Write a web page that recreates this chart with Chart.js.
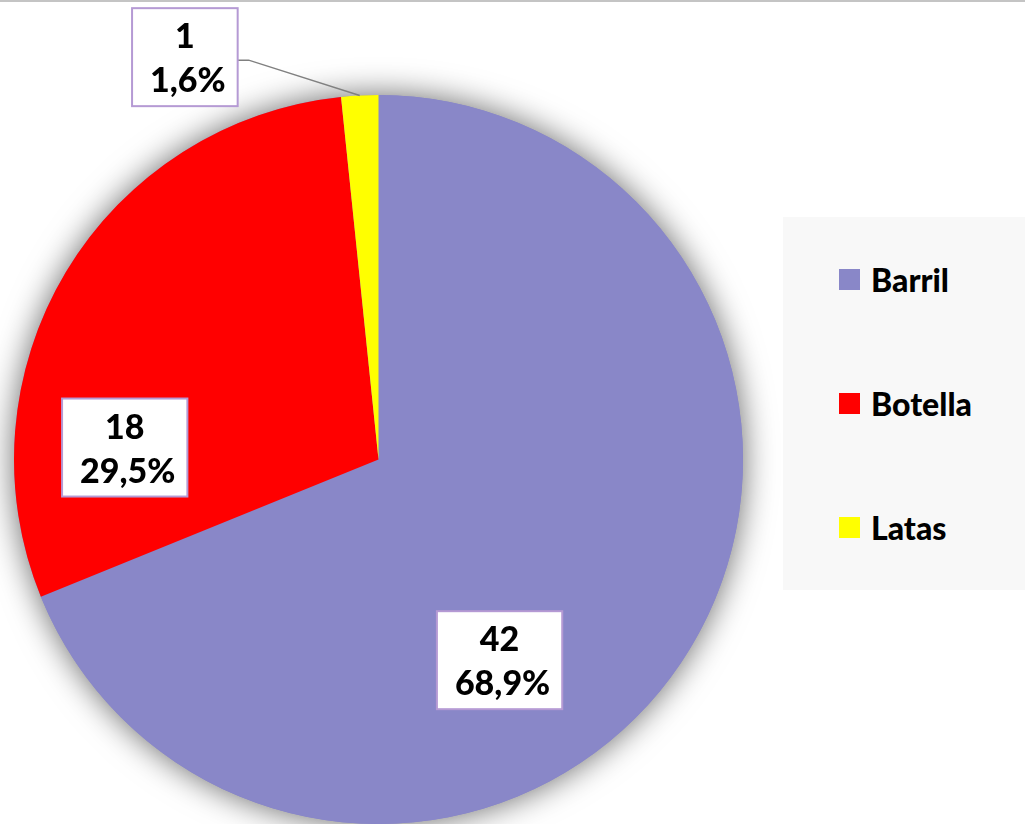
<!DOCTYPE html>
<html>
<head>
<meta charset="utf-8">
<script src="https://cdn.jsdelivr.net/npm/chart.js@4/dist/chart.umd.min.js"></script>
<style>
  html,body{margin:0;padding:0;background:#fff;}
  #wrap{position:relative;width:1025px;height:824px;overflow:hidden;}
  #topline{position:absolute;left:0;top:0;width:1025px;height:2px;background:#c4c4c4;}
  #chartPie{position:absolute;left:0;top:0;}
  #leyenda{position:absolute;left:783px;top:217px;width:242px;height:373px;background:#f8f8f8;}
  .item{position:absolute;left:56px;height:21px;display:flex;align-items:center;font:900 32px Lato, sans-serif;color:#000;}
  .item span.sq{display:inline-block;width:21px;height:21px;margin-right:11px;}
</style>
</head>
<body>
<div id="wrap">
  <canvas id="chartPie" width="1025" height="824"></canvas>
  <div id="topline"></div>
  <div id="leyenda"></div>
</div>
<script>
const categorias = ['Barril', 'Botella', 'Latas'];
const valores = [42, 18, 1];
const colores = ['#8987c8', '#ff0000', '#ffff00'];

// where each label box sits: angle (deg, clockwise from +x) and distance as fraction of radius
const posEtiquetas = [
  { ang: 58.9, r: 0.643 },
  { ang: 182.7, r: 0.697 },
  { ang: 244.3, r: 1.225 }
];

const total = valores.reduce((a,b)=>a+b, 0);
const pct = v => (v/total*100).toFixed(1).replace('.', ',') + '%';

const etiquetasPlugin = {
  id: 'etiquetas',
  beforeDatasetsDraw(chart){
    const arc = chart.getDatasetMeta(0).data[0];
    if(!arc) return;
    const ctx = chart.ctx;
    ctx.save();
    ctx.beginPath();
    ctx.arc(arc.x, arc.y, arc.outerRadius, 0, Math.PI*2);
    ctx.shadowColor = 'rgba(0,0,0,0.6)';
    ctx.shadowBlur = 32;
    ctx.fillStyle = colores[0];
    ctx.fill();
    ctx.restore();
  },
  afterDatasetsDraw(chart){
    const ctx = chart.ctx;
    const meta = chart.getDatasetMeta(0);
    meta.data.forEach((arc, i)=>{
      const p = posEtiquetas[i];
      const a = p.ang*Math.PI/180;
      const cx = arc.x + Math.cos(a)*p.r*arc.outerRadius;
      const cy = arc.y + Math.sin(a)*p.r*arc.outerRadius;
      const l1 = String(valores[i]), l2 = pct(valores[i]);
      ctx.save();
      ctx.font = '900 34px Lato, sans-serif';
      const w = Math.max(ctx.measureText(l1).width, ctx.measureText(l2).width) + 30;
      const h = 98;
      if(p.r > 1){
        // leader line to the middle of the slice edge
        const mid = (arc.startAngle + arc.endAngle)/2;
        const ex = arc.x + Math.cos(mid)*arc.outerRadius;
        const ey = arc.y + Math.sin(mid)*arc.outerRadius;
        ctx.beginPath();
        ctx.moveTo(cx + w/2, cy + 3);
        ctx.lineTo(cx + w/2 + 11, cy + 3);
        ctx.lineTo(ex, ey);
        ctx.strokeStyle = '#808080';
        ctx.lineWidth = 1.5;
        ctx.stroke();
      }
      ctx.fillStyle = '#fff';
      ctx.fillRect(cx - w/2, cy - h/2, w, h);
      ctx.strokeStyle = '#b59ad4';
      ctx.lineWidth = 2;
      ctx.strokeRect(cx - w/2, cy - h/2, w, h);
      ctx.fillStyle = '#000';
      ctx.textAlign = 'center';
      ctx.textBaseline = 'middle';
      ctx.fillText(l1, cx, cy - 20);
      ctx.fillText(l2, cx + 3, cy + 24);
      ctx.restore();
    });
  }
};

new Chart(document.getElementById('chartPie'), {
  type: 'pie',
  data: {
    labels: categorias,
    datasets: [{ data: valores, backgroundColor: colores, borderWidth: 0 }]
  },
  options: {
    responsive: false,
    animation: false,
    layout: { padding: { left: 13, right: 281, top: 95, bottom: 0 } },
    plugins: { legend: { display: false }, tooltip: { enabled: false } }
  },
  plugins: [etiquetasPlugin]
});

// legend
const ley = document.getElementById('leyenda');
categorias.forEach((c, i)=>{
  const d = document.createElement('div');
  d.className = 'item';
  d.style.top = (52 + i*124) + 'px';
  d.innerHTML = '<span class="sq" style="background:'+colores[i]+'"></span>' + c;
  ley.appendChild(d);
});
</script>
</body>
</html>
